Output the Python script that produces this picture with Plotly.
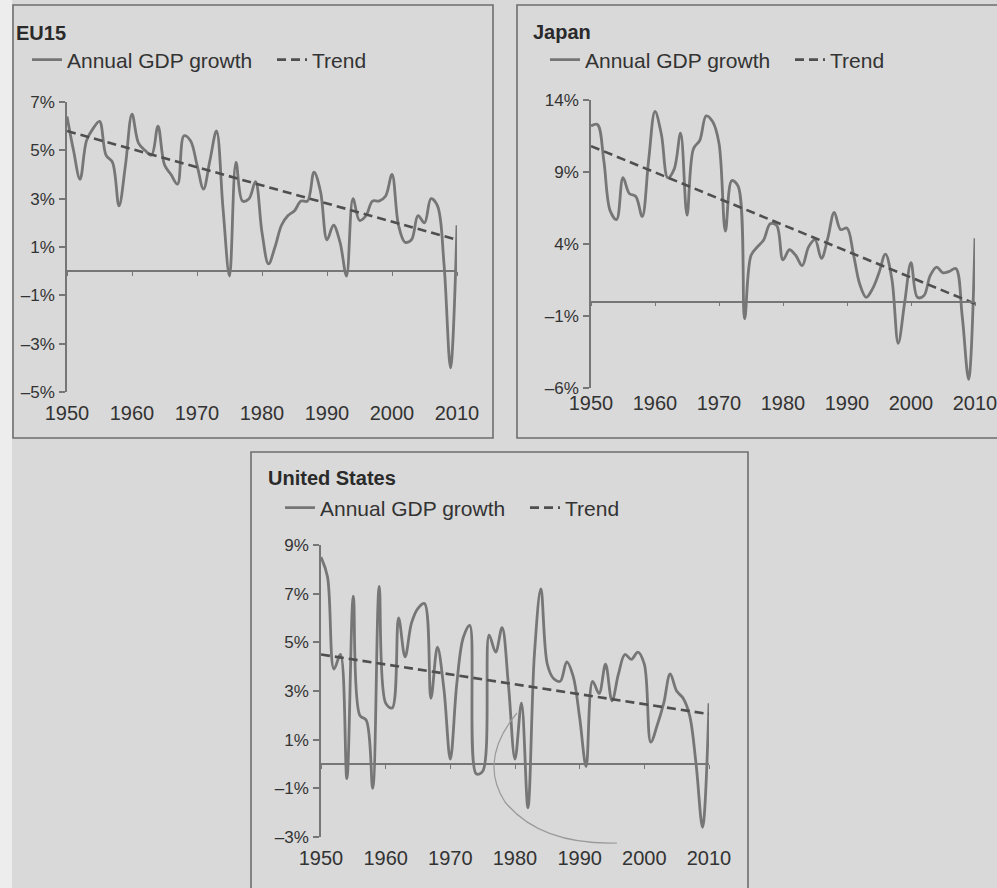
import plotly.graph_objects as go

# ---- data -----------------------------------------------------------------
years = list(range(1950, 2011))

eu15_growth = [
    6.4, 5.0, 3.8, 5.4, 5.9, 6.2, 4.8, 4.5, 2.7, 4.4,
    6.5, 5.3, 5.0, 4.8, 6.0, 4.4, 4.0, 3.6, 5.6, 5.4,
    4.4, 3.4, 4.6, 5.8, 2.6, -0.2, 4.5, 2.9, 3.0, 3.7,
    1.6, 0.3, 1.0, 1.9, 2.3, 2.5, 2.9, 2.9, 4.1, 3.3,
    1.3, 1.9, 1.2, -0.2, 3.0, 2.1, 2.3, 2.9, 2.9, 3.1,
    4.0, 1.9, 1.2, 1.3, 2.3, 2.0, 3.0, 2.7, 0.3, -4.0,
    1.9,
]

japan_growth = [
    12.2, 12.3, 9.8, 6.3, 5.7, 8.6, 7.5, 7.3, 5.9, 9.8,
    13.2, 11.6, 8.6, 9.2, 11.7, 6.0, 10.6, 11.2, 12.9, 12.5,
    11.0, 4.9, 8.4, 8.0, -1.2, 3.2, 3.8, 4.3, 5.4, 5.3,
    2.9, 3.6, 3.2, 2.5, 3.8, 4.3, 3.0, 4.4, 6.2, 5.0,
    5.1, 3.3, 1.2, 0.3, 0.9, 2.0, 3.3, 1.6, -2.9, -0.1,
    2.7, 0.3, 0.4, 1.8, 2.4, 2.0, 2.1, 2.3, -1.0, -5.4,
    4.4,
]

us_growth = [
    8.5, 7.7, 3.9, 4.5, -0.6, 6.9, 2.0, 1.8, -1.0, 7.3,
    2.5, 2.3, 6.0, 4.4, 5.8, 6.4, 6.6, 2.7, 4.8, 3.1,
    0.2, 3.3, 5.2, 5.7, -0.4, -0.3, 5.3, 4.6, 5.6, 3.2,
    0.2, 2.5, -1.8, 4.5, 7.2, 4.1, 3.5, 3.4, 4.2, 3.6,
    1.9, -0.1, 3.4, 2.9, 4.1, 2.6, 3.7, 4.5, 4.3, 4.6,
    4.1, 0.9, 1.6, 2.5, 3.7, 3.0, 2.7, 2.0, 0.0, -2.6,
    2.5,
]

trend_years = [1950, 2010]
eu15_trend = [5.8, 1.3]
japan_trend = [10.8, -0.15]
us_trend = [4.5, 2.05]

decade_ticks = [1950, 1960, 1970, 1980, 1990, 2000, 2010]
decade_labels = ["1950", "1960", "1970", "1980", "1990", "2000", "2010"]

eu15_yticks = [-5, -3, -1, 1, 3, 5, 7]
eu15_ylabels = ["–5%", "–3%", "–1%", "1%", "3%", "5%", "7%"]
japan_yticks = [-6, -1, 4, 9, 14]
japan_ylabels = ["–6%", "–1%", "4%", "9%", "14%"]
us_yticks = [-3, -1, 1, 3, 5, 7, 9]
us_ylabels = ["–3%", "–1%", "1%", "3%", "5%", "7%", "9%"]

panel_titles = ["EU15", "Japan", "United States"]
series_name = "Annual GDP growth"
trend_name = "Trend"

# ---- page geometry (pixels) ----------------------------------------------
W, H = 997, 888
FONT = "Liberation Sans, Arial, Helvetica, sans-serif"
INK = "#333333"
LINE = "#767676"
PAGE = "#d9d9d9"


def fx(px):
    return px / W


def fy(py):
    return 1 - py / H


# each panel: plot area in pixels (left, right, top, bottom), box, title/legend anchor
panels = [
    dict(growth=eu15_growth, trend=eu15_trend, yt=eu15_yticks, yl=eu15_ylabels,
         plot=(67, 457, 102, 392), box=(13, 493, 5, 438),
         title=(14, 33), legend=(27, 60), xstand=7),
    dict(growth=japan_growth, trend=japan_trend, yt=japan_yticks, yl=japan_ylabels,
         plot=(591, 975, 100, 388), box=(517, 1003, 5, 438),
         title=(531, 32), legend=(545, 60), xstand=1),
    dict(growth=us_growth, trend=us_trend, yt=us_yticks, yl=us_ylabels,
         plot=(321, 709, 545, 837), box=(251, 748, 452, 892),
         title=(266, 478), legend=(280, 508), xstand=7),
]

fig = go.Figure()
layout = dict(
    width=W, height=H,
    margin=dict(l=0, r=0, t=0, b=0, autoexpand=False),
    paper_bgcolor=PAGE, plot_bgcolor="rgba(0,0,0,0)",
    font=dict(family=FONT, color=INK),
    showlegend=True,
    shapes=[], annotations=[],
)

for i, p in enumerate(panels):
    n = i + 1
    sfx = "" if n == 1 else str(n)
    zsfx = str(n + 3)
    left, right, top, bottom = p["plot"]
    ymin, ymax = p["yt"][0], p["yt"][-1]
    legend_id = "legend" if n == 1 else f"legend{n}"

    fig.add_trace(go.Scatter(
        x=years, y=p["growth"], name=series_name,
        mode="lines", line=dict(color=LINE, width=2.8, shape="spline", smoothing=1.0),
        xaxis=f"x{sfx}", yaxis=f"y{sfx}", legend=legend_id,
    ))
    fig.add_trace(go.Scatter(
        x=trend_years, y=p["trend"], name=trend_name,
        mode="lines", line=dict(color="#4f4f4f", width=2.6, dash="9px,5px"),
        xaxis=f"x{zsfx}", yaxis=f"y{sfx}", legend=legend_id,
    ))

    ydom = [fy(bottom), fy(top)]
    xdom = [fx(left), fx(right)]
    zero_pos = ydom[0] + (0 - ymin) / (ymax - ymin) * (ydom[1] - ydom[0])

    layout[f"xaxis{sfx}"] = dict(
        domain=xdom, range=[1950, 2010], anchor=f"y{sfx}",
        tickvals=decade_ticks, ticktext=decade_labels,
        showline=False, ticks="", showgrid=False, zeroline=False,
        tickfont=dict(size=20, color=INK), ticklabelstandoff=p["xstand"],
        ticklabeloverflow="allow", automargin=False,
    )
    layout[f"yaxis{sfx}"] = dict(
        domain=ydom, range=[ymin, ymax], anchor=f"x{sfx}",
        tickvals=p["yt"], ticktext=p["yl"],
        showline=True, linecolor=LINE, linewidth=1.6,
        ticks="outside", ticklen=6, tickwidth=1.6, tickcolor=LINE,
        showgrid=False, zeroline=False,
        tickfont=dict(size=17, color=INK), ticklabelstandoff=1,
        automargin=False,
    )
    # horizontal axis line drawn through the zero level, with decade ticks
    layout[f"xaxis{zsfx}"] = dict(
        overlaying=f"x{sfx}", anchor="free", position=zero_pos,
        range=[1950, 2010], tickvals=decade_ticks,
        showticklabels=False, showline=True, linecolor=LINE, linewidth=1.6,
        ticks="outside", ticklen=4, tickwidth=1.4, tickcolor=LINE,
        showgrid=False, zeroline=False, automargin=False,
    )

    bx0, bx1, by0, by1 = p["box"]
    layout["shapes"].append(dict(
        type="rect", xref="paper", yref="paper",
        x0=fx(bx0), x1=fx(bx1), y0=fy(by1), y1=fy(by0),
        line=dict(color="#6e6e6e", width=1.6), layer="below",
    ))

    tx, ty = p["title"]
    layout["annotations"].append(dict(
        text=f"<b>{panel_titles[i]}</b>", xref="paper", yref="paper",
        x=fx(tx), y=fy(ty), xanchor="left", yanchor="middle",
        showarrow=False, font=dict(size=20, color="#2a2a2a"),
    ))

    lx, ly = p["legend"]
    layout[legend_id] = dict(
        x=fx(lx), y=fy(ly), xanchor="left", yanchor="middle",
        orientation="h", bgcolor="rgba(0,0,0,0)", borderwidth=0,
        font=dict(size=21, color=INK), itemwidth=30, traceorder="normal",
        tracegroupgap=0, entrywidth=200, entrywidthmode="pixels",
    )

# lighter strip along the left edge of the page
layout["shapes"].insert(0, dict(
    type="rect", xref="paper", yref="paper", x0=0, x1=fx(12), y0=0, y1=1,
    line=dict(width=0), fillcolor="#ededed", layer="below",
))

# faint pencil arc drawn across the lower panel
arc = [(517, 713), (478, 760), (505, 802), (540, 845), (617, 843)]
arc_path = "M {},{} Q {},{} {},{} Q {},{} {},{}".format(
    *[v for (ax, ay) in arc for v in (fx(ax), fy(ay))]
)
layout["shapes"].append(dict(
    type="path", xref="paper", yref="paper", path=arc_path,
    line=dict(color="#9a9a9a", width=1.2),
))

fig.update_layout(**layout)
fig.write_html("out.html")
